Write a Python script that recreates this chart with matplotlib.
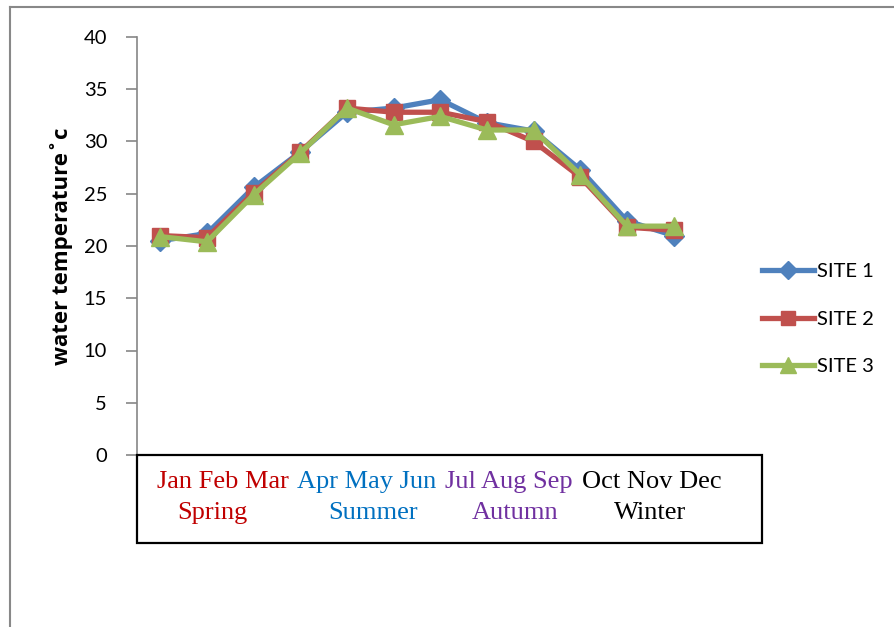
import matplotlib
matplotlib.use('Agg')
import matplotlib.pyplot as plt
from matplotlib.lines import Line2D
from matplotlib.patches import Rectangle

# data
months = ['Jan', 'Feb', 'Mar', 'Apr', 'May', 'Jun',
          'Jul', 'Aug', 'Sep', 'Oct', 'Nov', 'Dec']
site1 = [20.5, 21.2, 25.6, 29.0, 32.8, 33.2, 34.0, 31.8, 31.0, 27.3, 22.4, 21.0]
site2 = [21.0, 20.8, 25.1, 29.0, 33.2, 32.8, 32.8, 31.9, 30.0, 26.6, 21.8, 21.5]
site3 = [20.9, 20.4, 24.9, 28.9, 33.2, 31.6, 32.4, 31.1, 31.1, 26.8, 21.9, 21.9]
site_names = ['SITE 1', 'SITE 2', 'SITE 3']
y_ticks = [0, 5, 10, 15, 20, 25, 30, 35, 40]

season_groups = ['Jan Feb Mar', 'Apr May Jun', 'Jul Aug Sep', 'Oct Nov Dec']
season_names = ['Spring', 'Summer', 'Autumn', 'Winter']
season_colors = ['#C00000', '#0070C0', '#7030A0', '#000000']

W, H = 895, 627
fig = plt.figure(figsize=(W / 100, H / 100), dpi=100)
fig.patch.set_facecolor('white')


def fx(px):
    return px / W


def fy(py):
    return 1 - py / H


# outer chart border (top and left only visible)
fig.add_artist(Line2D([fx(10), fx(10)], [fy(7), 0], color='#888888', lw=1.5))
fig.add_artist(Line2D([fx(10), 1], [fy(7), fy(7)], color='#888888', lw=1.5))

ax = fig.add_axes([fx(137), fy(455), fx(697) - fx(137), fy(37) - fy(455)])
x = list(range(len(months)))

styles = [('#4F81BD', 'D', 10.5), ('#C0504D', 's', 11.5), ('#9BBB59', '^', 13)]
for vals, name, (c, m, ms) in zip([site1, site2, site3], site_names, styles):
    ax.plot(x, vals, color=c, lw=3.8, marker=m, markersize=ms,
            markerfacecolor=c, markeredgecolor=c, label=name)

ax.set_xlim(-0.5, 11.5)
ax.set_ylim(0, 40)
ax.set_yticks(y_ticks)
ax.set_xticks([])
for s in ['top', 'right', 'bottom']:
    ax.spines[s].set_visible(False)
ax.spines['left'].set_color('#868686')
ax.spines['left'].set_linewidth(1.2)
ax.tick_params(axis='y', direction='out', length=8, width=1.2, color='#868686',
               labelsize=14.5, pad=13.5)
for lbl in ax.get_yticklabels():
    lbl.set_fontfamily('Lato')
ax.set_ylabel('water temperature˚c', fontsize=16, fontweight='bold',
              family=['Open Sans', 'DejaVu Sans'], labelpad=8)

leg = ax.legend(loc='center left', bbox_to_anchor=(fx(752), fy(319)),
                bbox_transform=fig.transFigure, frameon=False,
                prop={'family': 'Lato', 'size': 14.5}, handlelength=2.6,
                handletextpad=0.15, labelspacing=1.5, borderpad=0,
                markerscale=0.9)

# season box below the plot
fig.add_artist(Rectangle((fx(137), fy(543)), fx(762) - fx(137), fy(455) - fy(543),
                         fill=False, edgecolor='black', lw=1.6))
group_x = [157, 297, 445, 582]
name_x = [212, 373, 515, 650]
for g, n, c, gx, nx in zip(season_groups, season_names, season_colors, group_x, name_x):
    fig.text(fx(gx), fy(482), g, color=c, fontsize=19, family='Liberation Serif',
             ha='left', va='center')
    fig.text(fx(nx), fy(513), n, color=c, fontsize=19, family='Liberation Serif',
             ha='center', va='center')

fig.savefig('out.png', dpi=100)
